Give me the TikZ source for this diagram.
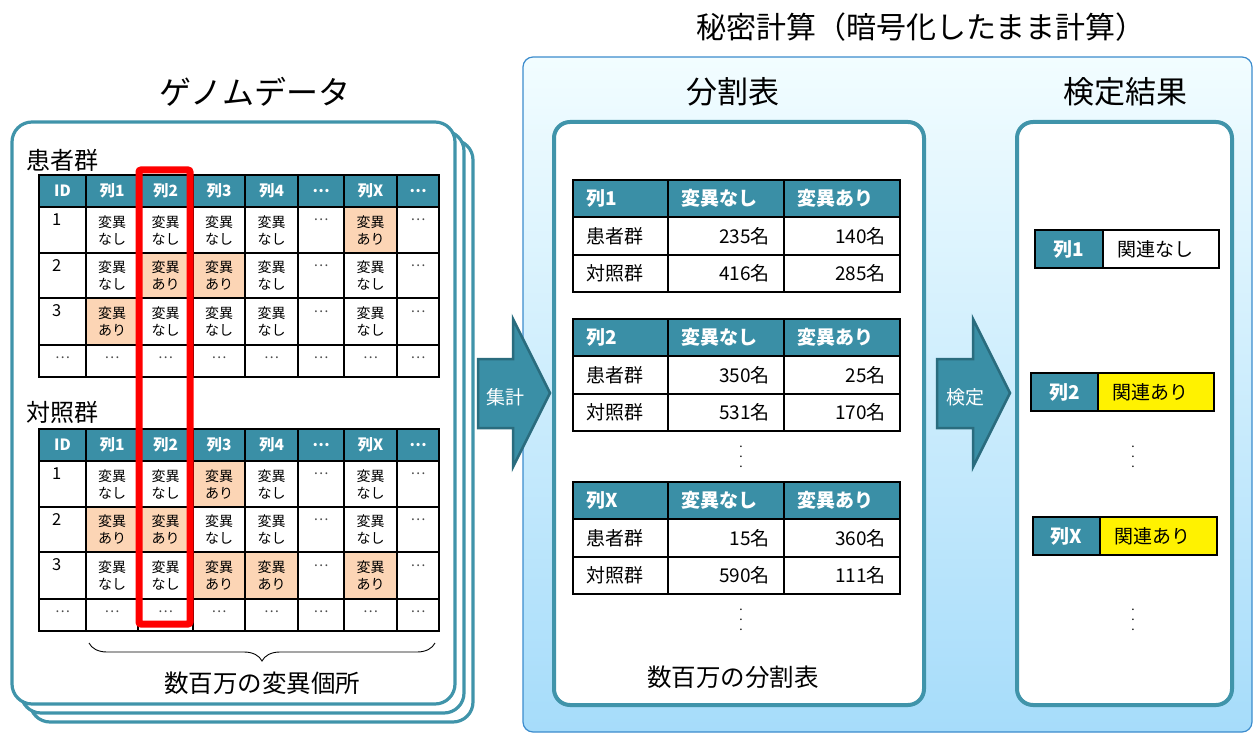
\documentclass[tikz,border=0pt]{standalone}
\usepackage{fontspec}
\setmainfont{Noto Sans CJK JP}
\usetikzlibrary{decorations.pathreplacing,positioning,calc}

\definecolor{hdrteal}{RGB}{58,143,166}
\definecolor{boxteal}{RGB}{64,148,170}
\definecolor{arrowedge}{RGB}{42,108,126}
\definecolor{peach}{RGB}{252,213,181}
\definecolor{skytop}{RGB}{242,253,255}
\definecolor{skymid}{RGB}{200,242,253}
\definecolor{skybot}{RGB}{166,220,250}
\definecolor{skyedge}{RGB}{60,140,205}

\newcommand{\fsz}[2]{\fontsize{#1}{#2}\selectfont}
\def\colx{{39,86,138,193,245,298,344,397,439}}
\def\rowy{{207,253,298,345}}
\def\celln{変異\\なし}
\def\cella{変異\\あり}
\def\celld{…}

\begin{document}
\begin{tikzpicture}[x=1pt, y=-1pt,
  tline/.style={line width=2.2pt, line cap=rect},
  card/.style={draw=boxteal, line width=3.2pt, fill=white, rounded corners=20pt},
  pane/.style={draw=boxteal, line width=4pt, fill=white, rounded corners=16pt},
  hdr/.style={text=white, font=\fsz{15.5}{17}\bfseries, inner sep=0pt},
  cellbase/.style={align=center, font=\fsz{14}{17}, inner sep=0pt},
  celln/.style={cellbase}, cella/.style={cellbase},
  celld/.style={cellbase, yshift=10pt, text=black!70},
  filln/.style={}, filla/.style={fill=peach}, filld/.style={},
  thd/.style={text=white, font=\fsz{19}{22}\bfseries, anchor=west, inner sep=0pt},
  tbody/.style={font=\fsz{19}{22}, inner sep=0pt},
  title/.style={font=\fsz{31}{34}},
  flow/.style={fill=hdrteal, draw=arrowedge, line width=2.5pt, line join=miter},
  vdots/.style={align=center, font=\fsz{12}{10}, inner sep=0pt}]
  \useasboundingbox (0,0) rectangle (1254,733);

  % Genome data cards
  \foreach \d in {18,9,0}
    \draw[card] (12+\d,122+\d) rectangle (455+\d,704+\d);
  \node[font=\fsz{32}{36}] (genome) at (255,92) {ゲノムデータ};

  % Two genotype tables
  \foreach \t/\grp/\gy in {1/患者群/160, 2/対照群/412} {
    \pgfmathsetmacro\off{(\t-1)*254}
    \node[anchor=west, font=\fsz{24}{28}, inner sep=0pt] (grp\t) at (26,\gy) {\grp};
    \fill[hdrteal] (39,175+\off) rectangle (439,207+\off);
  }
  \foreach \t/\r/\cells in {1/1/{n,n,n,n,d,a,d}, 1/2/{n,a,a,n,d,n,d}, 1/3/{a,n,n,n,d,n,d},
                            2/1/{n,n,a,n,d,n,d}, 2/2/{a,a,n,n,d,n,d}, 2/3/{n,n,a,a,d,a,d}} {
    \pgfmathsetmacro\off{(\t-1)*254}
    \pgfmathsetmacro\ya{\rowy[\r-1]+\off}
    \pgfmathsetmacro\yb{\rowy[\r]+\off}
    \node[anchor=west, font=\fsz{16.5}{18}, inner sep=0pt] (id\t-\r) at (52,\ya+13) {\r};
    \foreach \s [count=\k from 2] in \cells {
      \pgfmathsetmacro\xa{\colx[\k-1]}
      \pgfmathsetmacro\xb{\colx[\k]}
      \path[fill\s] (\xa,\ya) rectangle (\xb,\yb);
      \node[cell\s] (c\t-\r-\k) at ({(\xa+\xb)/2},{(\ya+\yb)/2}) {\csname cell\s\endcsname};
    }
  }
  \foreach \t in {1,2} {
    \pgfmathsetmacro\off{(\t-1)*254}
    \foreach \y in {175,207,253,298,345,377}
      \draw[tline] (39,\y+\off) -- (439,\y+\off);
    \foreach \x in {39,86,138,193,245,298,344,397,439}
      \draw[tline] (\x,175+\off) -- (\x,377+\off);
    \foreach \lab [count=\k] in {ID,列1,列2,列3,列4,…,列X,…} {
      \pgfmathsetmacro\xa{\colx[\k-1]}
      \pgfmathsetmacro\xb{\colx[\k]}
      \node[hdr] (h\t-\k) at ({(\xa+\xb)/2},191+\off) {\lab};
      \node[cellbase, text=black!70] (e\t-\k) at ({(\xa+\xb)/2},358+\off) {…};
    }
  }

  % Selected column
  \draw[red, line width=7pt, rounded corners=2pt] (139,170) rectangle (190,624);

  % Brace under the columns
  \coordinate (brL) at (89,643);
  \coordinate (brR) at (435,643);
  \draw[decorate, decoration={brace, mirror, amplitude=18pt, aspect=0.5}, line width=0.9pt] (brL) -- (brR);
  \node[font=\fsz{24.5}{28}] (sites) at (262,683) {数百万の変異個所};

  % Secure computation area
  \shade[top color=skytop, middle color=skymid, bottom color=skybot,
         draw=skyedge, line width=1.2pt, rounded corners=10pt] (523,57) rectangle (1252,732);
  \node[font=\fsz{30}{34}] (secure) at (921,27) {秘密計算（暗号化したまま計算）};
  \draw[pane] (554,122) rectangle (924,705);
  \draw[pane] (1017,122) rectangle (1232,705);
  \node[title] (ctab) at (733,92) {分割表};
  \node[title] (result) at (1125,92) {検定結果};

  % Aggregation and test arrows
  \draw[flow] (478,359) -- (513,359) -- (513,319) -- (550,393) -- (513,467) -- (513,428) -- (478,428) -- cycle;
  \node[text=white, font=\fsz{19}{22}] (agg) at (505,397) {集計};
  \draw[flow] (937,359) -- (973,359) -- (973,319) -- (1010,393) -- (973,467) -- (973,428) -- (937,428) -- cycle;
  \node[text=white, font=\fsz{19}{22}] (test) at (965,397) {検定};

  % Contingency tables
  \foreach \nm/\ty/\pa/\pb/\qa/\qb [count=\k] in {列1/180/235/140/416/285, 列2/319/350/25/531/170, 列X/482/15/360/590/111} {
    \fill[hdrteal] (573,\ty) rectangle (900,\ty+37);
    \foreach \y in {0,37,75,112}
      \draw[tline] (573,\ty+\y) -- (900,\ty+\y);
    \foreach \x in {573,668,784,900}
      \draw[tline] (\x,\ty) -- (\x,\ty+112);
    \node[thd] (t\k) at (586,\ty+18.5) {\nm};
    \node[thd] (t\k-n) at (681,\ty+18.5) {変異なし};
    \node[thd] (t\k-a) at (797,\ty+18.5) {変異あり};
    \node[tbody, anchor=west] (t\k-p) at (586,\ty+56) {患者群};
    \node[tbody, anchor=east] at (770,\ty+56) {\pa 名};
    \node[tbody, anchor=east] at (886,\ty+56) {\pb 名};
    \node[tbody, anchor=west] (t\k-q) at (586,\ty+93) {対照群};
    \node[tbody, anchor=east] at (770,\ty+93) {\qa 名};
    \node[tbody, anchor=east] at (886,\ty+93) {\qb 名};
  }
  \node[vdots] (td1) at (741,457) {.\\.\\.};
  \node[vdots] (td2) at (741,620) {.\\.\\.};
  \node[font=\fsz{24.5}{28}] (ctabs) at (733,677) {数百万の分割表};

  % Test results
  \foreach \nm/\ty/\xl/\xm/\xr/\res/\fl [count=\k] in {列1/230/1035/1103/1219/関連なし/white,
      列2/373/1031/1098/1214/関連あり/yellow, 列X/517/1033/1100/1217/関連あり/yellow} {
    \fill[hdrteal] (\xl,\ty) rectangle (\xm,\ty+38);
    \fill[\fl] (\xm,\ty) rectangle (\xr,\ty+38);
    \draw[tline] (\xl,\ty) rectangle (\xr,\ty+38);
    \draw[tline] (\xm,\ty) -- (\xm,\ty+38);
    \node[thd, anchor=center] (r\k) at ({(\xl+\xm)/2},\ty+19) {\nm};
    \node[tbody, anchor=west] (r\k-v) at (\xm+14,\ty+19) {\res};
  }
  \node[vdots] (rd1) at (1133,457) {.\\.\\.};
  \node[vdots] (rd2) at (1133,620) {.\\.\\.};
\end{tikzpicture}
\end{document}
